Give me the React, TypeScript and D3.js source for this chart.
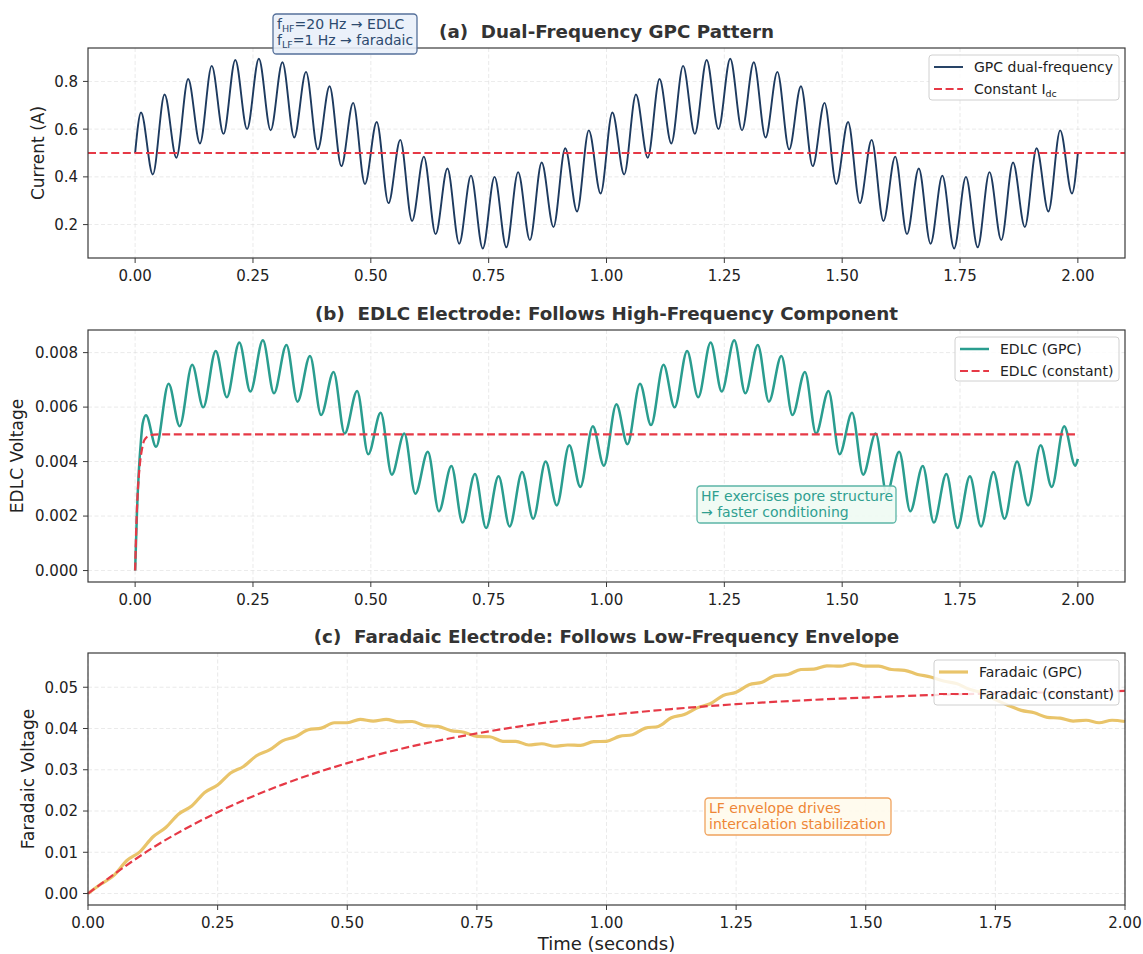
import React, { useEffect } from "react";
import * as d3 from "d3";

// ---- data ----
const xTicks = [0, 0.25, 0.5, 0.75, 1.0, 1.25, 1.5, 1.75, 2.0];

// (a) GPC current: peaks at 0.0125 + 0.05k, troughs at 0.0375 + 0.05k
const currentPeaks = [
  0.67, 0.745, 0.81, 0.865, 0.89, 0.895, 0.88, 0.84, 0.78, 0.71,
  0.63, 0.555, 0.485, 0.435, 0.405, 0.4, 0.42, 0.46, 0.52, 0.595,
  0.67, 0.745, 0.81, 0.865, 0.89, 0.895, 0.88, 0.84, 0.78, 0.71,
  0.63, 0.555, 0.485, 0.435, 0.405, 0.4, 0.42, 0.46, 0.52, 0.595,
];
const currentTroughs = [
  0.41, 0.48, 0.54, 0.58, 0.6, 0.595, 0.565, 0.515, 0.445, 0.37,
  0.29, 0.215, 0.16, 0.12, 0.1, 0.105, 0.135, 0.19, 0.255, 0.33,
  0.41, 0.48, 0.54, 0.58, 0.6, 0.595, 0.565, 0.515, 0.445, 0.37,
  0.29, 0.215, 0.16, 0.12, 0.1, 0.105, 0.135, 0.19, 0.255, 0.33,
];
const currentStart = 0.5;
const currentEnd = 0.5;
const dcCurrent = 0.5;
const currentYTicks = [0.2, 0.4, 0.6, 0.8];

// (b) EDLC voltage
const edlcEarlyTimes = [0, 0.004, 0.008, 0.012, 0.016];
const edlcEarlyValues = [0, 0.0022, 0.0037, 0.0047, 0.0054];
const edlcPeaks = [
  0.0057, 0.00686, 0.00755, 0.00806, 0.00837, 0.00845, 0.00828, 0.00788, 0.00729, 0.00659,
  0.00579, 0.00503, 0.00436, 0.00384, 0.00354, 0.00346, 0.00362, 0.004, 0.0046, 0.0053,
  0.0061, 0.00686, 0.00755, 0.00806, 0.00837, 0.00845, 0.00828, 0.00788, 0.00729, 0.00659,
  0.00579, 0.00503, 0.00436, 0.00384, 0.00354, 0.00346, 0.00362, 0.004, 0.0046, 0.0053,
];
const edlcTroughs = [
  0.00454, 0.0053, 0.00599, 0.00636, 0.00657, 0.00651, 0.0062, 0.00571, 0.00503, 0.00427,
  0.00352, 0.00282, 0.00218, 0.00176, 0.00156, 0.00162, 0.0019, 0.00239, 0.00307, 0.00385,
  0.00464, 0.00534, 0.00599, 0.00636, 0.00657, 0.00651, 0.0062, 0.00571, 0.00503, 0.00427,
  0.00352, 0.00282, 0.00218, 0.00176, 0.00156, 0.00162, 0.0019, 0.00239, 0.00307, 0.00385,
];
const edlcEnd = 0.0041;
const edlcConstTimes = [0, 0.0025, 0.005, 0.0075, 0.01, 0.015, 0.02, 0.03, 0.04, 0.05, 2.0];
const edlcConstValues = [0, 0.0016, 0.0027, 0.0034, 0.0039, 0.0045, 0.0048, 0.00495, 0.00499, 0.005, 0.005];
const edlcYTicks = [0, 0.002, 0.004, 0.006, 0.008];

// (c) Faradaic voltage, sampled every 0.025 s
const faradaicGpc = [
  0, 0.0023, 0.0044, 0.008, 0.0101, 0.0137, 0.016, 0.0193, 0.0212, 0.0245,
  0.0263, 0.0292, 0.0308, 0.0334, 0.0348, 0.037, 0.038, 0.0397, 0.0401, 0.0414,
  0.0414, 0.0422, 0.0418, 0.0422, 0.0416, 0.0417, 0.0407, 0.0405, 0.0395, 0.0391,
  0.0381, 0.038, 0.0369, 0.0369, 0.036, 0.0363, 0.0357, 0.036, 0.0359, 0.0368,
  0.0369, 0.0381, 0.0385, 0.0401, 0.0405, 0.0426, 0.0434, 0.045, 0.046, 0.048,
  0.0488, 0.0506, 0.0512, 0.0528, 0.0531, 0.0543, 0.0544, 0.0552, 0.0551, 0.0557,
  0.0551, 0.0551, 0.0543, 0.0541, 0.0531, 0.0525, 0.0515, 0.0509, 0.0495, 0.0486,
  0.047, 0.0456, 0.0444, 0.0438, 0.0427, 0.0425, 0.0418, 0.042, 0.0414, 0.042,
  0.0417,
];
const faradaicConstTimes = [0, 0.125, 0.25, 0.375, 0.5, 0.625, 0.75, 0.875, 1.0, 1.125, 1.25, 1.375, 1.5, 1.625, 1.75, 1.875, 2.0];
const faradaicConst = [
  0, 0.0111, 0.0197, 0.0264, 0.0316, 0.0357, 0.0388, 0.0413, 0.0432,
  0.0447, 0.0459, 0.0468, 0.0475, 0.0481, 0.0485, 0.0488, 0.0491,
];
const faradaicYTicks = [0, 0.01, 0.02, 0.03, 0.04, 0.05];

// ---- layout ----
const W = 1143;
const H = 954;
const LEFT = 88;
const RIGHT = 1125;
const FONT = "DejaVu Sans, Verdana, sans-serif";
const NAVY = "#1d3a5f";
const RED = "#e63946";
const TEAL = "#2a9d8f";
const GOLD = "#e9c46a";
const SPINE = "#3a3a3a";
const TICK_FS = 15;
const LEG_FS = 14;

type Pt = [number, number];

const currentPts: Pt[] = [[0, currentStart]];
currentPeaks.forEach((p, k) => {
  currentPts.push([0.0125 + 0.05 * k, p]);
  currentPts.push([0.0375 + 0.05 * k, currentTroughs[k]]);
});
currentPts.push([2.0, currentEnd]);

const edlcPts: Pt[] = edlcEarlyTimes.map((t, i) => [t, edlcEarlyValues[i]] as Pt);
edlcPeaks.forEach((p, k) => {
  edlcPts.push([k === 0 ? 0.023 : 0.021 + 0.05 * k, p]);
  edlcPts.push([0.0445 + 0.05 * k, edlcTroughs[k]]);
});
edlcPts.push([2.0, edlcEnd]);

const edlcConstPts: Pt[] = edlcConstTimes.map((t, i) => [t, edlcConstValues[i]]);
const faradaicPts: Pt[] = faradaicGpc.map((v, i) => [i * 0.025, v]);
const faradaicConstPts: Pt[] = faradaicConstTimes.map((t, i) => [t, faradaicConst[i]]);

type Series = { pts: Pt[]; color: string; width: number; dash?: string };
type LegendItem = { label: React.ReactNode; color: string; width: number; dash?: string };

function Panel(props: {
  top: number;
  bottom: number;
  xDomain: [number, number];
  yDomain: [number, number];
  yTicks: number[];
  yFmt: string;
  title: string;
  yLabel: string;
  yLabelX: number;
  series: Series[];
  legend: LegendItem[];
  legendBox: { x: number; y: number; w: number; h: number };
  children?: React.ReactNode;
}) {
  const { top, bottom, series, legend, legendBox } = props;
  const x = d3.scaleLinear().domain(props.xDomain).range([LEFT, RIGHT]);
  const y = d3.scaleLinear().domain(props.yDomain).range([bottom, top]);
  const fx = d3.format(".2f");
  const fy = d3.format(props.yFmt);
  const line = d3
    .line<Pt>()
    .x((d) => x(d[0]))
    .y((d) => y(d[1]))
    .curve(d3.curveMonotoneX);

  return (
    <g>
      {xTicks.map((t) => (
        <line key={"gx" + t} x1={x(t)} x2={x(t)} y1={top} y2={bottom} stroke="#d4d4d4" strokeWidth={0.8} strokeDasharray="4,2.5" opacity={0.6} />
      ))}
      {props.yTicks.map((t) => (
        <line key={"gy" + t} x1={LEFT} x2={RIGHT} y1={y(t)} y2={y(t)} stroke="#d4d4d4" strokeWidth={0.8} strokeDasharray="4,2.5" opacity={0.6} />
      ))}
      {series.map((s, i) => (
        <path key={i} d={line(s.pts) || ""} fill="none" stroke={s.color} strokeWidth={s.width} strokeDasharray={s.dash} strokeLinejoin="round" />
      ))}
      <rect x={LEFT} y={top} width={RIGHT - LEFT} height={bottom - top} fill="none" stroke={SPINE} strokeWidth={1.2} />
      {xTicks.map((t) => (
        <g key={"tx" + t}>
          <line x1={x(t)} x2={x(t)} y1={bottom} y2={bottom + 5} stroke={SPINE} strokeWidth={1} />
          <text x={x(t)} y={bottom + 23} textAnchor="middle" fontSize={TICK_FS} fill="#222" fontFamily={FONT}>
            {fx(t)}
          </text>
        </g>
      ))}
      {props.yTicks.map((t) => (
        <g key={"ty" + t}>
          <line x1={LEFT - 5} x2={LEFT} y1={y(t)} y2={y(t)} stroke={SPINE} strokeWidth={1} />
          <text x={LEFT - 10} y={y(t)} dy="0.36em" textAnchor="end" fontSize={TICK_FS} fill="#222" fontFamily={FONT}>
            {fy(t)}
          </text>
        </g>
      ))}
      <text
        x={(LEFT + RIGHT) / 2}
        y={top - 10}
        textAnchor="middle"
        fontSize={18.3}
        fontWeight="bold"
        fill="#333"
        fontFamily={FONT}
        xmlSpace="preserve"
        style={{ whiteSpace: "pre" }}
      >
        {props.title}
      </text>
      <text
        transform={`translate(${props.yLabelX},${(top + bottom) / 2}) rotate(-90)`}
        textAnchor="middle"
        dy="0.36em"
        fontSize={17}
        fill="#222"
        fontFamily={FONT}
      >
        {props.yLabel}
      </text>
      {/* legend */}
      <rect x={legendBox.x} y={legendBox.y} width={legendBox.w} height={legendBox.h} rx={3} fill="#fff" fillOpacity={0.82} stroke="#d0d0d0" strokeWidth={1} />
      {legend.map((l, i) => {
        const cy = legendBox.y + 12 + i * 22;
        return (
          <g key={"lg" + i}>
            <line x1={legendBox.x + 5} x2={legendBox.x + 34} y1={cy} y2={cy} stroke={l.color} strokeWidth={l.width} strokeDasharray={l.dash} />
            <text x={legendBox.x + 45} y={cy} dy="0.36em" fontSize={LEG_FS} fill="#222" fontFamily={FONT}>
              {l.label}
            </text>
          </g>
        );
      })}
      {props.children}
    </g>
  );
}

function NoteBox(props: { x: number; y: number; w: number; h: number; fill: string; stroke: string; color: string; lines: React.ReactNode[] }) {
  return (
    <g>
      <rect x={props.x} y={props.y} width={props.w} height={props.h} rx={3.5} fill={props.fill} fillOpacity={0.9} stroke={props.stroke} strokeWidth={1.3} />
      {props.lines.map((ln, i) => (
        <text key={i} x={props.x + 4} y={props.y + 14.5 + i * 16} fontSize={LEG_FS} fill={props.color} fontFamily={FONT}>
          {ln}
        </text>
      ))}
    </g>
  );
}

const sub = (s: string) => (
  <tspan fontSize={9.5} dy={3}>
    {s}
  </tspan>
);

export default function App() {
  useEffect(() => {
    document.body.style.margin = "0";
  }, []);

  const dash = "8,3.6";

  return (
    <div style={{ position: "absolute", left: 0, top: 0, background: "#fff" }}>
      <svg width={W} height={H} viewBox={`0 0 ${W} ${H}`} style={{ display: "block" }}>
        <rect width={W} height={H} fill="#fff" />

        <Panel
          top={48}
          bottom={258}
          xDomain={[-0.1, 2.1]}
          yDomain={[0.06, 0.94]}
          yTicks={currentYTicks}
          yFmt=".1f"
          title="(a)  Dual-Frequency GPC Pattern"
          yLabel="Current (A)"
          yLabelX={38}
          series={[
            { pts: currentPts, color: NAVY, width: 1.9 },
            { pts: [[-0.1, dcCurrent], [2.1, dcCurrent]], color: RED, width: 2.2, dash },
          ]}
          legend={[
            { label: "GPC dual-frequency", color: NAVY, width: 1.9 },
            { label: <>Constant I{sub("dc")}</>, color: RED, width: 2.2, dash },
          ]}
          legendBox={{ x: 929, y: 55, w: 190, h: 45 }}
        >
          <NoteBox
            x={273}
            y={14}
            w={144}
            h={40}
            fill="#e9f0fa"
            stroke="#55709a"
            color="#2d4a6e"
            lines={[
              <>
                f{sub("HF")}
                <tspan dy={-3}>=20 Hz → EDLC</tspan>
              </>,
              <>
                f{sub("LF")}
                <tspan dy={-3}>=1 Hz → faradaic</tspan>
              </>,
            ]}
          />
        </Panel>

        <Panel
          top={330}
          bottom={582}
          xDomain={[-0.1, 2.1]}
          yDomain={[-0.00042, 0.00883]}
          yTicks={edlcYTicks}
          yFmt=".3f"
          title="(b)  EDLC Electrode: Follows High-Frequency Component"
          yLabel="EDLC Voltage"
          yLabelX={17}
          series={[
            { pts: edlcPts, color: TEAL, width: 2.5 },
            { pts: edlcConstPts, color: RED, width: 2.2, dash },
          ]}
          legend={[
            { label: "EDLC (GPC)", color: TEAL, width: 2.5 },
            { label: "EDLC (constant)", color: RED, width: 2.2, dash },
          ]}
          legendBox={{ x: 955, y: 337, w: 164, h: 44 }}
        >
          <NoteBox
            x={697}
            y={486}
            w={199}
            h={37}
            fill="#eefbf3"
            stroke="#5bb5a6"
            color="#2f9f90"
            lines={["HF exercises pore structure", "→ faster conditioning"]}
          />
        </Panel>

        <Panel
          top={653}
          bottom={905}
          xDomain={[0, 2]}
          yDomain={[-0.00278, 0.0583]}
          yTicks={faradaicYTicks}
          yFmt=".2f"
          title="(c)  Faradaic Electrode: Follows Low-Frequency Envelope"
          yLabel="Faradaic Voltage"
          yLabelX={28}
          series={[
            { pts: faradaicPts, color: GOLD, width: 3.2 },
            { pts: faradaicConstPts, color: RED, width: 2.2, dash },
          ]}
          legend={[
            { label: "Faradaic (GPC)", color: GOLD, width: 3.2 },
            { label: "Faradaic (constant)", color: RED, width: 2.2, dash },
          ]}
          legendBox={{ x: 934, y: 660, w: 185, h: 45 }}
        >
          <NoteBox
            x={705}
            y={798}
            w={186}
            h={37}
            fill="#fffbec"
            stroke="#f0a35e"
            color="#ee8636"
            lines={["LF envelope drives", "intercalation stabilization"]}
          />
          <text x={(LEFT + RIGHT) / 2} y={950} textAnchor="middle" fontSize={18} fill="#222" fontFamily={FONT}>
            Time (seconds)
          </text>
        </Panel>
      </svg>
    </div>
  );
}
